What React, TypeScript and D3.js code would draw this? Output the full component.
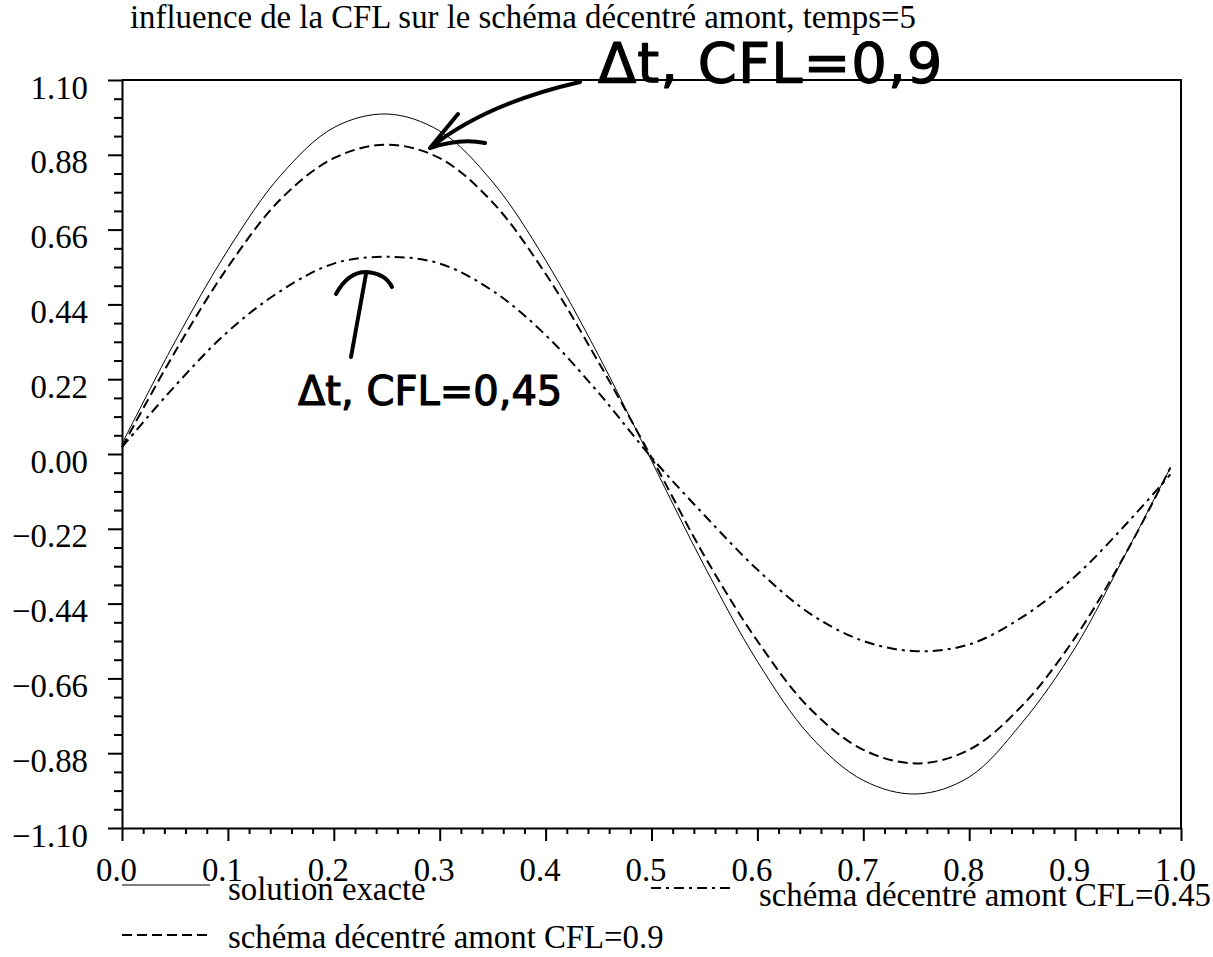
import React, { useRef, useEffect } from 'react';
import * as d3 from 'd3';

// abscissae of the sampled points
const xs = [0, 0.05, 0.1, 0.15, 0.2, 0.25, 0.3, 0.35, 0.4, 0.45, 0.5, 0.55, 0.6, 0.65, 0.7, 0.75, 0.8, 0.85, 0.9, 0.95, 0.99];

// values
const exacte = [0.03, 0.33, 0.6, 0.82, 0.96, 1.0, 0.95, 0.8, 0.57, 0.29, -0.02, -0.33, -0.61, -0.83, -0.96, -1.0, -0.95, -0.79, -0.57, -0.28, -0.04];
const cfl09 = [0.02, 0.3, 0.55, 0.75, 0.87, 0.91, 0.87, 0.74, 0.53, 0.27, -0.01, -0.3, -0.55, -0.75, -0.87, -0.91, -0.87, -0.74, -0.54, -0.28, -0.04];
const cfl045 = [0.02, 0.2, 0.36, 0.48, 0.56, 0.58, 0.56, 0.48, 0.35, 0.18, -0.01, -0.18, -0.34, -0.47, -0.55, -0.58, -0.56, -0.48, -0.36, -0.2, -0.06];

const xTicks = [0, 0.1, 0.2, 0.3, 0.4, 0.5, 0.6, 0.7, 0.8, 0.9, 1.0];
const xTickLabels = ['0.0', '0.1', '0.2', '0.3', '0.4', '0.5', '0.6', '0.7', '0.8', '0.9', '1.0'];
const yTicks = [1.1, 0.88, 0.66, 0.44, 0.22, 0, -0.22, -0.44, -0.66, -0.88, -1.1];
const yTickLabels = ['1.10', '0.88', '0.66', '0.44', '0.22', '0.00', '\u22120.22', '\u22120.44', '\u22120.66', '\u22120.88', '\u22121.10'];

const title = 'influence de la CFL sur le schéma décentré amont, temps=5';
const seriesNames = ['solution exacte', 'schéma décentré amont CFL=0.9', 'schéma décentré amont CFL=0.45'];

const App = () => {
  const svgRef = useRef<SVGSVGElement>(null);

  useEffect(() => {
    const svg = d3.select(svgRef.current);
    svg.selectAll('*').remove();
    const font = '"Liberation Serif", "Times New Roman", serif';
    const fs = 32.8;
    const left = 122, right = 1181, top = 80, bottom = 828;

    const x = d3.scaleLinear().domain([0, 1]).range([left, right]);
    const y = d3.scaleLinear().domain([-1.1, 1.1]).range([bottom, top]);

    svg.append('text')
      .attr('x', 130).attr('y', 28)
      .attr('font-family', font).attr('font-size', fs)
      .text(title);

    // minor ticks
    const xMinor = d3.range(0, 51).map(i => i / 50).filter((_, i) => i % 5 !== 0);
    const yMinor = d3.range(0, 41).map(i => -1.1 + i * 0.055).filter((_, i) => i % 4 !== 0);

    svg.append('g')
      .attr('transform', `translate(0,${bottom})`)
      .call(d3.axisBottom(x).tickValues(xMinor).tickSize(6).tickFormat(() => ''))
      .call(g => g.select('.domain').remove());
    svg.append('g')
      .attr('transform', `translate(${left},0)`)
      .call(d3.axisLeft(y).tickValues(yMinor).tickSize(8).tickFormat(() => ''))
      .call(g => g.select('.domain').remove());

    const xAxis = svg.append('g')
      .attr('transform', `translate(0,${bottom})`)
      .call(d3.axisBottom(x).tickValues(xTicks).tickSize(13).tickSizeOuter(0)
        .tickFormat((d, i) => xTickLabels[i]));
    xAxis.selectAll('text')
      .attr('font-family', font).attr('font-size', fs).attr('fill', '#000')
      .attr('dy', null).attr('y', 53).attr('x', -6);

    const yAxis = svg.append('g')
      .attr('transform', `translate(${left},0)`)
      .call(d3.axisLeft(y).tickValues(yTicks).tickSize(14).tickSizeOuter(0)
        .tickFormat((d, i) => yTickLabels[i]));
    yAxis.selectAll('text')
      .attr('font-family', font).attr('font-size', fs).attr('fill', '#000')
      .attr('dy', null).attr('y', 18).attr('x', -34);

    svg.selectAll('.tick line, .domain').attr('stroke', '#000').attr('stroke-width', 2);

    // frame top / right
    svg.append('path')
      .attr('d', `M${left},${top}H${right}V${bottom}`)
      .attr('fill', 'none').attr('stroke', '#000').attr('stroke-width', 2);

    const line = d3.line<number>()
      .x((_, i) => x(xs[i]))
      .y(d => y(d))
      .curve(d3.curveCatmullRom);

    const styles = [
      { data: exacte, width: 1, dash: null },
      { data: cfl09, width: 2, dash: '10,5' },
      { data: cfl045, width: 2, dash: '10,5,3,5' }
    ];
    styles.forEach(s => {
      svg.append('path')
        .attr('d', line(s.data))
        .attr('fill', 'none').attr('stroke', '#000')
        .attr('stroke-width', s.width)
        .attr('stroke-dasharray', s.dash);
    });

    // legend
    const legend = [
      { x1: 122, x2: 210, ly: 885, tx: 228, ty: 900 },
      { x1: 122, x2: 210, ly: 935, tx: 228, ty: 948 },
      { x1: 651, x2: 735, ly: 888, tx: 759, ty: 906 }
    ];
    legend.forEach((l, i) => {
      svg.append('line')
        .attr('x1', l.x1).attr('x2', l.x2).attr('y1', l.ly).attr('y2', l.ly)
        .attr('stroke', i === 0 ? '#555' : '#000')
        .attr('stroke-width', i === 0 ? 1.5 : 2)
        .attr('stroke-dasharray', styles[i].dash);
      svg.append('text')
        .attr('x', l.tx).attr('y', l.ty)
        .attr('font-family', font).attr('font-size', fs)
        .text(seriesNames[i]);
    });

    // handwritten notes
    const pen = '"DejaVu Sans", sans-serif';
    const notes = svg.append('g').attr('fill', '#000').attr('stroke', '#000').attr('stroke-width', 1.2)
      .attr('stroke-linecap', 'round').attr('stroke-linejoin', 'round');
    notes.append('text').attr('x', 598).attr('y', 82)
      .attr('font-family', pen).attr('font-size', 56).attr('letter-spacing', 1).text('\u0394t, CFL=0,9');
    notes.append('text').attr('x', 298).attr('y', 405)
      .attr('font-family', pen).attr('font-size', 40).text('\u0394t, CFL=0,45');
    notes.append('path')
      .attr('d', 'M580,82 C545,90 480,108 430,148 M430,148 L458,114 M430,148 Q460,138 485,143')
      .attr('fill', 'none').attr('stroke-width', 4);
    notes.append('path')
      .attr('d', 'M336,294 Q348,272 366,272 Q385,273 392,287 M366,274 L351,357')
      .attr('fill', 'none').attr('stroke-width', 4);
  }, []);

  return (
    <svg ref={svgRef} width={1213} height={957}
      style={{ position: 'absolute', left: 0, top: 0, background: '#fff' }} />
  );
};

export default App;
